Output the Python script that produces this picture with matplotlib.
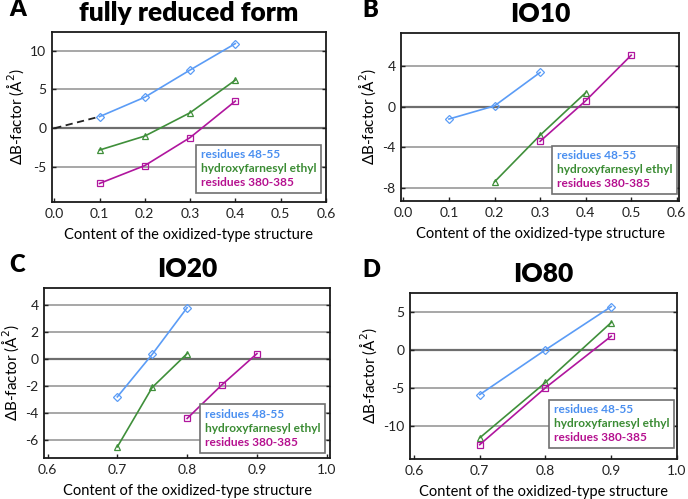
import numpy as np
import matplotlib
matplotlib.use("Agg")
import matplotlib.pyplot as plt

plt.rcParams['font.family'] = ['Lato', 'DejaVu Sans']
plt.rcParams['axes.unicode_minus'] = False

# series names
labels = ['residues 48-55', 'hydroxyfarnesyl ethyl', 'residues 380-385']

# panel A: fully reduced form
a_x_blue = [0.1, 0.2, 0.3, 0.4]
a_y_blue = [1.5, 4.0, 7.5, 10.9]
a_x_green = [0.1, 0.2, 0.3, 0.4]
a_y_green = [-2.8, -1.0, 2.0, 6.2]
a_x_mag = [0.1, 0.2, 0.3, 0.4]
a_y_mag = [-7.1, -4.8, -1.2, 3.5]
a_dash_x = [0.0, 0.1]
a_dash_y = [0.0, 1.5]

# panel B: IO10
b_x_blue = [0.1, 0.2, 0.3]
b_y_blue = [-1.2, 0.1, 3.4]
b_x_green = [0.2, 0.3, 0.4]
b_y_green = [-7.4, -2.8, 1.4]
b_x_mag = [0.3, 0.4, 0.5]
b_y_mag = [-3.4, 0.6, 5.1]

# panel C: IO20
c_x_blue = [0.7, 0.75, 0.8]
c_y_blue = [-2.8, 0.35, 3.8]
c_x_green = [0.7, 0.75, 0.8]
c_y_green = [-6.5, -2.1, 0.4]
c_x_mag = [0.8, 0.85, 0.9]
c_y_mag = [-4.4, -1.9, 0.4]

# panel D: IO80
d_x_blue = [0.7, 0.8, 0.9]
d_y_blue = [-5.9, 0.0, 5.7]
d_x_green = [0.7, 0.8, 0.9]
d_y_green = [-11.6, -4.3, 3.6]
d_x_mag = [0.7, 0.8, 0.9]
d_y_mag = [-12.5, -5.0, 1.8]

line_colors = ['#5b9cf6', '#3f8f3a', '#b0169e']
text_colors = ['#4a8ff0', '#3b8c34', '#b5108f']
markers = ['D', '^', 's']
msizes = [4, 4.5, 4]

fig = plt.figure(figsize=(6.88, 4.99), dpi=100)

panels = [
    dict(rect=[0.0756, 0.595, 0.398, 0.341], letter='A', title='fully reduced form',
         data=[(a_x_blue, a_y_blue), (a_x_green, a_y_green), (a_x_mag, a_y_mag)],
         xlim=(-0.005, 0.6), xticks=np.arange(0, 0.61, 0.1), ylim=(-9.5, 12.4),
         yticks=[-5, 0, 5, 10], leg=(0.982, 0.053)),
    dict(rect=[0.583, 0.597, 0.404, 0.337], letter='B', title='IO10',
         data=[(b_x_blue, b_y_blue), (b_x_green, b_y_green), (b_x_mag, b_y_mag)],
         xlim=(-0.005, 0.605), xticks=np.arange(0, 0.61, 0.1), ylim=(-9.3, 7.3),
         yticks=[-8, -4, 0, 4], leg=(0.993, 0.042)),
    dict(rect=[0.064, 0.082, 0.416, 0.341], letter='C', title='IO20',
         data=[(c_x_blue, c_y_blue), (c_x_green, c_y_green), (c_x_mag, c_y_mag)],
         xlim=(0.595, 1.005), xticks=np.arange(0.6, 1.01, 0.1), ylim=(-7.33, 5.26),
         yticks=[-6, -4, -2, 0, 2, 4], leg=(0.983, 0.03)),
    dict(rect=[0.596, 0.080, 0.388, 0.333], letter='D', title='IO80',
         data=[(d_x_blue, d_y_blue), (d_x_green, d_y_green), (d_x_mag, d_y_mag)],
         xlim=(0.594, 1.0), xticks=np.arange(0.6, 1.01, 0.1), ylim=(-14.4, 7.5),
         yticks=[-10, -5, 0, 5], leg=(0.989, 0.066)),
]

for i, p in enumerate(panels):
    ax = fig.add_axes(p['rect'])
    for yt in p['yticks']:
        if yt == 0:
            ax.axhline(0, color='#6e6e6e', lw=1.6, zorder=1)
        else:
            ax.axhline(yt, color='#a0a0a0', lw=1.3, zorder=1)
    if i == 0:
        ax.plot(a_dash_x, a_dash_y, color='#222222', lw=1.3, ls=(0, (4, 2.5)), zorder=2)
    for j, (xs, ys) in enumerate(p['data']):
        ax.plot(xs, ys, color=line_colors[j], lw=1.2, marker=markers[j], ms=msizes[j],
                mfc='none', mec=line_colors[j], mew=0.9, label=labels[j], zorder=3)
    ax.set_xlim(p['xlim'])
    ax.set_ylim(p['ylim'])
    ax.set_xticks(p['xticks'])
    ax.set_xticklabels(['%.1f' % t for t in p['xticks']])
    ax.set_yticks(p['yticks'])
    ax.set_yticklabels(['%d' % t for t in p['yticks']])
    ax.tick_params(direction='in', length=3, width=1, labelsize=10, colors='#222222',
                   right=True, top=False, pad=4)
    for s in ax.spines.values():
        s.set_linewidth(1.3)
        s.set_color('#1a1a1a')
    ax.set_xlabel('Content of the oxidized-type structure', fontsize=10.5, labelpad=6)
    ax.set_ylabel('ΔB-factor (Å$^2$)', fontsize=11, labelpad=3)
    ax.set_title(p['title'], fontsize=19, fontweight='heavy', pad=8)
    bb = ax.get_position()
    fig.text(0.013 if p['rect'][0] < 0.5 else 0.527, bb.y1 + 0.045, p['letter'],
             fontsize=17, fontweight='heavy', ha='left', va='center')
    leg = ax.legend(loc='lower right', bbox_to_anchor=p['leg'], borderaxespad=0,
                    handlelength=0, handletextpad=0, frameon=True, fancybox=False,
                    edgecolor='#707070', framealpha=1, prop={'size': 8.6, 'weight': 'bold'},
                    labelspacing=0.25, borderpad=0.4)
    for h in leg.legend_handles:
        h.set_visible(False)
    for t, c in zip(leg.get_texts(), text_colors):
        t.set_color(c)
    leg.get_frame().set_linewidth(1.2)

fig.savefig('out.png', dpi=100)
